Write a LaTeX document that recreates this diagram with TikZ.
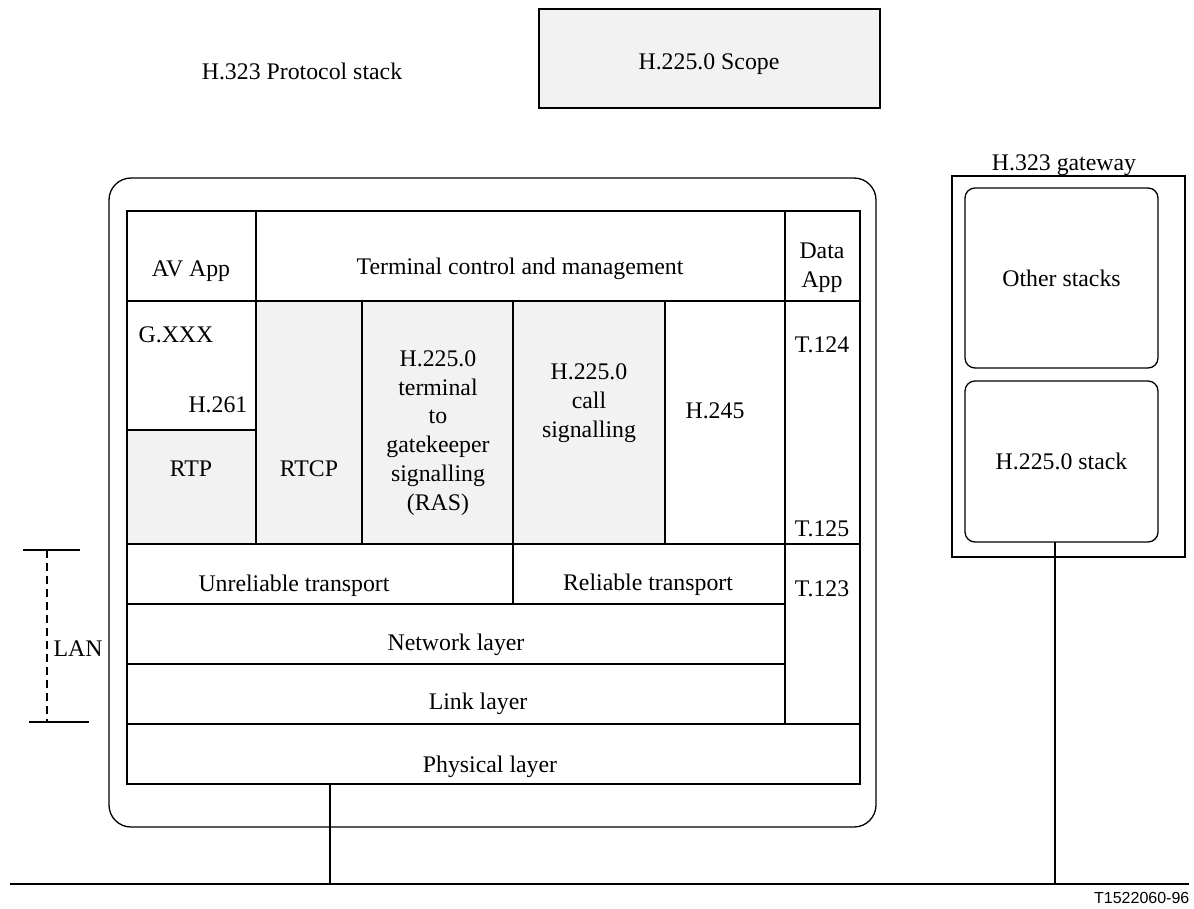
\documentclass[tikz,border=0pt]{standalone}
\usepackage{fontspec}
\setmainfont{Liberation Serif}
\newfontfamily\figsans{Liberation Sans}
\usepackage{xcolor}
\usepackage{tikz}

\definecolor{scopegray}{HTML}{F2F2F2}
\tikzset{
  lbl/.style={inner sep=0pt, align=center},
  stackbox/.style={draw, rounded corners=5pt},
}

\begin{document}
\begin{tikzpicture}[x=0.5pt,y=-0.5pt,line width=0.65pt,
    font=\fontsize{11.9}{14.4}\selectfont]
  \useasboundingbox (0,0) rectangle (1194,909);
  % scope legend
  \filldraw[fill=scopegray] (539,9) rectangle (880,108);
  \node[lbl] (scope) at (709,64) {H.225.0 Scope};
  \node[lbl] (title) at (302,71) {H.323 Protocol stack};
  % terminal
  \draw[rounded corners=11pt] (109,178) rectangle (876,827);
  \foreach \xa/\ya/\xb/\yb in {127/430/256/544,256/301/362/544,
      362/301/513/544,513/301/665/544} {
    \filldraw[fill=scopegray] (\xa,\ya) rectangle (\xb,\yb);
  }
  \foreach \xa/\ya/\xb/\yb in {127/211/256/301,256/211/785/301,
      785/211/860/301,127/301/256/430,665/301/785/544,785/301/860/544,
      127/544/513/604,513/544/785/604,785/544/860/724,127/604/785/664,
      127/664/785/724,127/724/860/784} {
    \draw (\xa,\ya) rectangle (\xb,\yb);
  }
  \node[lbl] (avapp) at (191,271) {AV App};
  \node[lbl] (tcm) at (520,269) {Terminal control and management};
  \node[lbl] (dataapp) at (822,268) {Data\\App};
  \node[lbl, anchor=base west] (gxxx) at (138,343) {G.XXX};
  \node[lbl, anchor=base east] (h261) at (248,412) {H.261};
  \node[lbl] (rtp) at (191,469) {RTP};
  \node[lbl] (rtcp) at (309,469) {RTCP};
  \node[lbl] (ras) at (438,433) {H.225.0\\terminal\\to\\gatekeeper\\signalling\\(RAS)};
  \node[lbl] (callsig) at (589,403) {H.225.0\\call\\signalling};
  \node[lbl] (h245) at (715,411) {H.245};
  \node[lbl] (t124) at (822,345) {T.124};
  \node[lbl] (t125) at (822,529) {T.125};
  \node[lbl] (t123) at (822,589) {T.123};
  \node[lbl] (unrel) at (294,586) {Unreliable transport};
  \node[lbl] (rel) at (648,585) {Reliable transport};
  \node[lbl] (net) at (456,645) {Network layer};
  \node[lbl] (link) at (478,704) {Link layer};
  \node[lbl] (phys) at (490,767) {Physical layer};
  % LAN extent
  \draw (23,550) -- (80,550);
  \draw (29,722) -- (89,722);
  \draw[dashed, line width=1.1pt, dash pattern=on 4pt off 2.5pt] (47,550) -- (47,722);
  \node[lbl, anchor=west] (lan) at (53,649) {LAN};
  % gateway
  \draw (952,176) rectangle (1185,557);
  \node[lbl, anchor=base] (gwlabel) at (1064,171) {H.323 gateway};
  \node[stackbox, minimum width=96.5pt, minimum height=90pt] (other) at (1061.5,278) {Other stacks};
  \node[stackbox, minimum width=96.5pt, minimum height=80.5pt] (gwstack) at (1061.5,461.5) {H.225.0 stack};
  % LAN bus
  \coordinate (busL) at (10,884);
  \coordinate (busR) at (1189,884);
  \coordinate (physdrop) at (330,784);
  \coordinate (gwdrop) at (1055,542);
  \draw (busL) -- (busR);
  \draw (physdrop) -- (physdrop |- busL);
  \draw (gwdrop) -- (gwdrop |- busL);
  \node[lbl, anchor=east, font=\figsans\fontsize{8}{9.6}\selectfont] (tag) at (1190,898) {T1522060-96};
\end{tikzpicture}
\end{document}
